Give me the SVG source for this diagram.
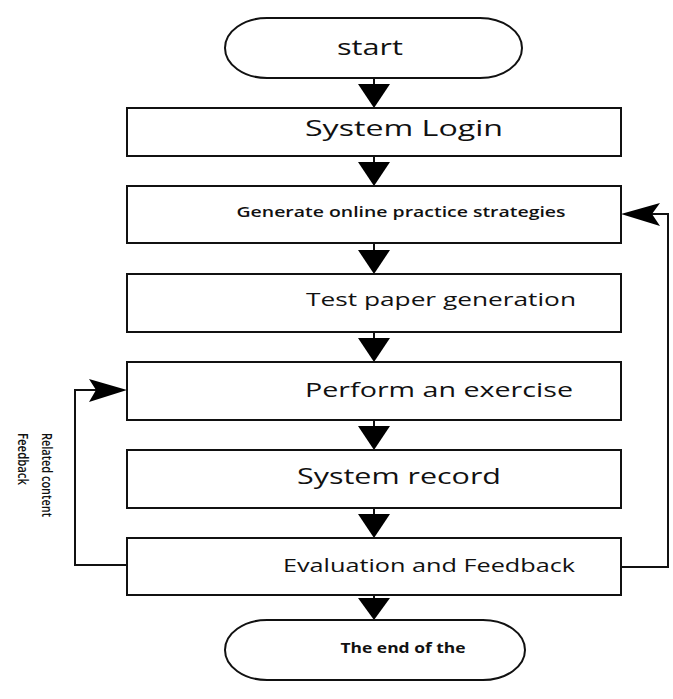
<svg xmlns="http://www.w3.org/2000/svg" width="673" height="699" viewBox="0 0 673 699">
  <style>
    .box { fill: #ffffff; stroke: #111111; stroke-width: 2; }
    .line { fill: none; stroke: #111111; stroke-width: 2; }
    .head { fill: #000000; }
    .lbl { font-family: "Open Sans", "Noto Sans", sans-serif; fill: #111111; text-anchor: middle; }
    .side { font-family: "Open Sans", "Noto Sans", sans-serif; fill: #111111; font-size: 14px; font-weight: 600; }
  </style>
  <rect width="673" height="699" fill="#ffffff"/>

  <!-- connectors -->
  <g id="connectors">
    <!-- vertical flow -->
    <line class="line" x1="374" y1="78" x2="374" y2="90"/>
    <polygon class="head" points="358,84 390,84 374,108"/>
    <line class="line" x1="374" y1="156" x2="374" y2="168"/>
    <polygon class="head" points="358,162 390,162 374,186"/>
    <line class="line" x1="374" y1="243" x2="374" y2="255"/>
    <polygon class="head" points="358,250 390,250 374,274"/>
    <line class="line" x1="374" y1="332" x2="374" y2="344"/>
    <polygon class="head" points="358,338 390,338 374,362"/>
    <line class="line" x1="374" y1="420" x2="374" y2="432"/>
    <polygon class="head" points="358,426 390,426 374,450"/>
    <line class="line" x1="374" y1="508" x2="374" y2="520"/>
    <polygon class="head" points="358,514 390,514 374,538"/>
    <line class="line" x1="374" y1="595" x2="374" y2="605"/>
    <polygon class="head" points="358,598 390,598 374,620"/>
    <!-- right feedback loop -->
    <polyline class="line" points="621,567 668,567 668,214 650,214"/>
    <polygon class="head" points="621,214 660,203 652,214 660,226"/>
    <!-- left feedback loop -->
    <polyline class="line" points="127,565 75,565 75,390 100,390"/>
    <polygon class="head" points="127,390 89,379 96,390 89,402"/>
    <text class="side" transform="translate(42,433) rotate(90)" textLength="84" lengthAdjust="spacingAndGlyphs">Related content</text>
    <text class="side" transform="translate(18,433) rotate(90)" textLength="52" lengthAdjust="spacingAndGlyphs">Feedback</text>
  </g>

  <g id="start">
    <rect class="box" x="225" y="18" width="297" height="60" rx="42" ry="30"/>
    <text class="lbl" x="370" y="55" font-size="22" textLength="66" lengthAdjust="spacingAndGlyphs">start</text>
  </g>
  <g id="login">
    <rect class="box" x="127" y="108" width="494" height="48"/>
    <text class="lbl" x="404" y="136" font-size="22" textLength="198" lengthAdjust="spacingAndGlyphs">System Login</text>
  </g>
  <g id="strategies">
    <rect class="box" x="127" y="186" width="494" height="57"/>
    <text class="lbl" x="401" y="217" font-size="13.5" font-weight="600" textLength="329" lengthAdjust="spacingAndGlyphs">Generate online practice strategies</text>
  </g>
  <g id="paper">
    <rect class="box" x="127" y="274" width="494" height="58"/>
    <text class="lbl" x="441" y="306" font-size="19" textLength="270" lengthAdjust="spacingAndGlyphs">Test paper generation</text>
  </g>
  <g id="exercise">
    <rect class="box" x="127" y="362" width="494" height="58"/>
    <text class="lbl" x="439" y="397" font-size="20" textLength="268" lengthAdjust="spacingAndGlyphs">Perform an exercise</text>
  </g>
  <g id="record">
    <rect class="box" x="127" y="450" width="494" height="58"/>
    <text class="lbl" x="399" y="484" font-size="22" textLength="204" lengthAdjust="spacingAndGlyphs">System record</text>
  </g>
  <g id="evaluation">
    <rect class="box" x="127" y="538" width="494" height="57"/>
    <text class="lbl" x="429" y="572" font-size="18" textLength="292" lengthAdjust="spacingAndGlyphs">Evaluation and Feedback</text>
  </g>
  <g id="end">
    <rect class="box" x="225" y="620" width="300" height="60" rx="42" ry="30"/>
    <text class="lbl" x="403" y="653" font-size="13.5" font-weight="700" textLength="125" lengthAdjust="spacingAndGlyphs">The end of the</text>
  </g>
</svg>
